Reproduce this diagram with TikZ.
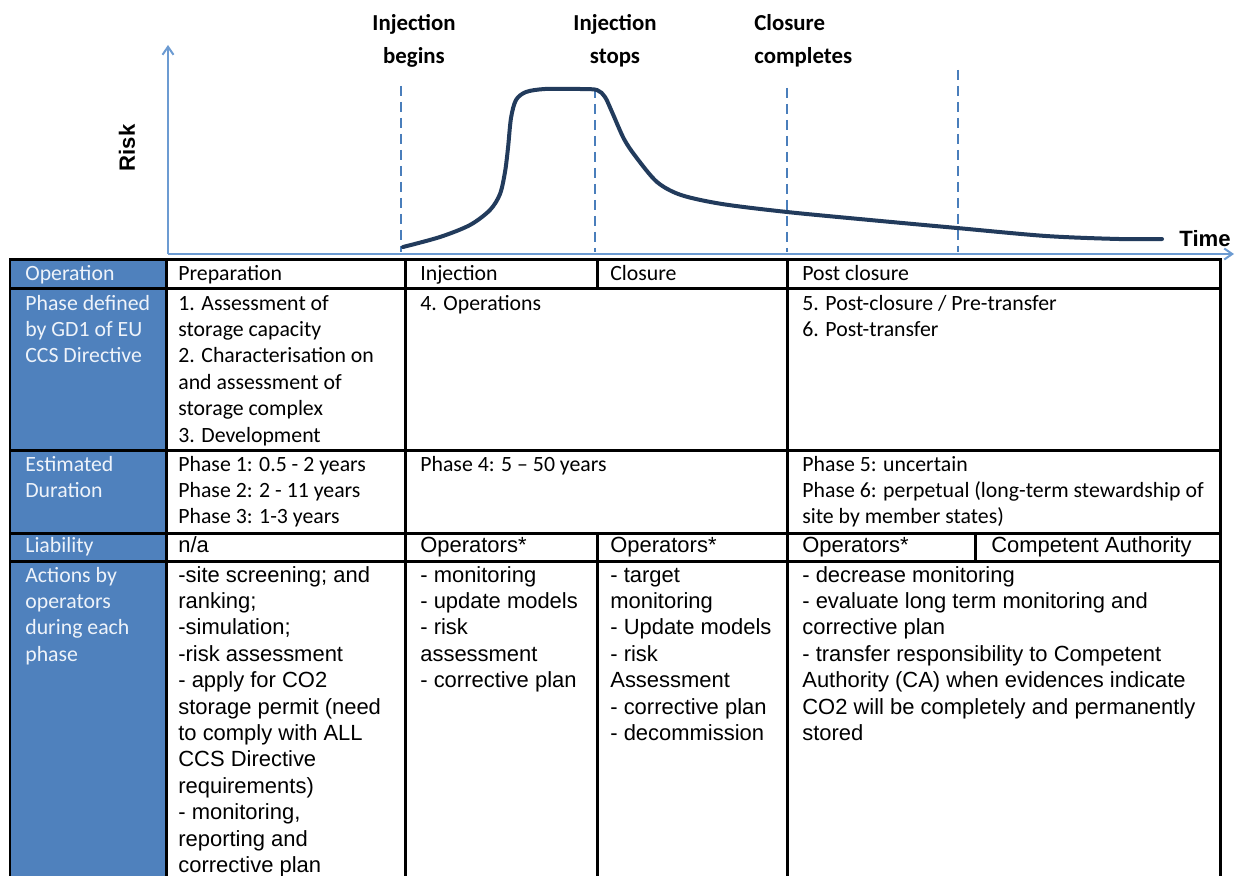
\documentclass[tikz,border=0pt]{standalone}
\usepackage{fontspec}
\setmainfont{Carlito}
\newfontfamily\tahoma{Liberation Sans}
\usetikzlibrary{arrows.meta}
\definecolor{sideblue}{HTML}{4F81BD}
\definecolor{sidetext}{HTML}{EEF3FA}
\definecolor{axisblue}{HTML}{6C9BD2}
\definecolor{dashblue}{HTML}{4A7EBB}
\definecolor{curveblue}{HTML}{223B5C}
\begin{document}
% Multi-line nodes are placed by the baseline of their LAST line:
% last = first + (lines-1)*26.4 px
\begin{tikzpicture}[x=0.02cm,y=-0.02cm,
  cal/.style={font=\fontsize{12.4pt}{15.02pt}\selectfont,anchor=base west,inner sep=0pt,align=left},
  tah/.style={font=\tahoma\fontsize{12.5pt}{15.02pt}\selectfont,anchor=base west,inner sep=0pt,align=left},
  side/.style={cal,text=sidetext},
  evt/.style={font=\bfseries\fontsize{13pt}{18.8pt}\selectfont,inner sep=0pt,align=center,anchor=base},
  axlabel/.style={font=\tahoma\bfseries\fontsize{12.6pt}{15pt}\selectfont,inner sep=0pt},
  gridline/.style={line width=0.06cm,black},
  axisline/.style={draw=axisblue,line width=0.04cm},
  marker/.style={draw=dashblue,line width=0.03cm,dash pattern=on 0.2cm off 0.12cm},
  riskcurve/.style={draw=curveblue,line width=0.08cm,line cap=round}]
\useasboundingbox (0,0) rectangle (1236,875);
\fill[white] (0,0) rectangle (1236,875);

% ---------- chart ----------
\coordinate (origin) at (168,254);
\coordinate (ytip) at (168,45);
\coordinate (xtip) at (1234,254);
\draw[axisline,-{Straight Barb[length=0.16cm,width=0.22cm]}] (origin) -- (ytip);
\draw[axisline,-{Straight Barb[length=0.16cm,width=0.22cm]}] (origin) -- (xtip);

\coordinate (m1t) at (401,86);  \coordinate (m1b) at (401,252);
\coordinate (m2t) at (595,88);  \coordinate (m2b) at (595,252);
\coordinate (m3t) at (787,88);  \coordinate (m3b) at (787,252);
\coordinate (m4t) at (958,70);  \coordinate (m4b) at (958,252);
\draw[marker] (m1t) -- (m1b);
\draw[marker] (m2t) -- (m2b);
\draw[marker] (m3t) -- (m3b);
\draw[marker] (m4t) -- (m4b);

\draw[riskcurve] plot[smooth,tension=0.5] coordinates {
 (403,247) (440,237) (470,225) (490,210) (500,194) (505,172) (508,148)
 (511,118) (516,100) (526,92) (545,89) (580,89) (597,90) (605,97)
 (612,112) (624,139) (636,157) (657,182) (681,195) (722,204) (787,212)
 (870,220) (957,228) (1046,236) (1119,239) (1162,239)};

\node[evt] (ibeg) at (414,64) {Injection\\begins};
\node[evt] (istop) at (615,64) {Injection\\stops};
\node[evt,anchor=base west,align=left] (ccomp) at (754,64) {Closure\\completes};
\node[axlabel,rotate=90] (risk) at (127,148) {Risk};
\node[axlabel] (time) at (1205,239) {Time};

% ---------- table ----------
\fill[sideblue] (10,259) rectangle (166,880);
\draw[gridline] (10,880) -- (10,259) -- (1220,259) -- (1220,880);
\foreach \yy in {288,450,533,561} \draw[gridline] (10,\yy) -- (1220,\yy);
\draw[gridline] (166,259) -- (166,880);
\draw[gridline] (405,259) -- (405,880);
\draw[gridline] (787,259) -- (787,880);
\draw[gridline] (597,259) -- (597,288);
\draw[gridline] (597,533) -- (597,880);
\draw[gridline] (975,533) -- (975,561);

% side labels
\node[side] (opL) at (25,280) {Operation};
\node[side] (phL) at (25,362.8) {Phase defined\\by GD1 of EU\\CCS Directive};
\node[side] (duL) at (25,497.4) {Estimated\\Duration};
\node[side] (liL) at (25,552) {Liability};
\node[side] (acL) at (25,661.2) {Actions by\\operators\\during each\\phase};

% operation row
\node[cal] (opPrep) at (178,280) {Preparation};
\node[cal] (opInj) at (420,280) {Injection};
\node[cal] (opClo) at (610,280) {Closure};
\node[cal] (opPost) at (802,280) {Post closure};

% phase row
\node[cal] (phPrep) at (178,442) {1. Assessment of\\storage capacity\\2. Characterisation on\\and assessment of\\storage complex\\3. Development};
\node[cal] (phInj) at (420,310) {4. Operations};
\node[cal] (phPost) at (802,336.4) {5. Post-closure / Pre-transfer\\6. Post-transfer};

% duration row
\node[cal] (duPrep) at (178,523.8) {Phase 1: 0.5 - 2 years\\Phase 2: 2 - 11 years\\Phase 3: 1-3 years};
\node[cal] (duInj) at (420,471) {Phase 4: 5 – 50 years};
\node[cal] (duPost) at (802,523.8) {Phase 5: uncertain\\Phase 6: perpetual (long-term stewardship of\\site by member states)};

% liability row
\node[tah] (liPrep) at (178,552) {n/a};
\node[tah] (liInj) at (420,552) {Operators*};
\node[tah] (liClo) at (610,552) {Operators*};
\node[tah] (liPost) at (802,552) {Operators*};
\node[tah] (liCA) at (991,552) {Competent Authority};

% actions row
\node[tah] (acPrep) at (178,872.4) {-site screening; and\\ranking;\\-simulation;\\-risk assessment\\- apply for CO2\\storage permit (need\\to comply with ALL\\CCS Directive\\requirements)\\- monitoring,\\reporting and\\corrective plan};
\node[tah] (acInj) at (420,687.6) {- monitoring\\- update models\\- risk\\assessment\\- corrective plan};
\node[tah] (acClo) at (610,740.4) {- target\\monitoring\\- Update models\\- risk\\Assessment\\- corrective plan\\- decommission};
\node[tah] (acPost) at (802,740.4) {- decrease monitoring\\- evaluate long term monitoring and\\corrective plan\\- transfer responsibility to Competent\\Authority (CA) when evidences indicate\\CO2 will be completely and permanently\\stored};
\end{tikzpicture}
\end{document}
